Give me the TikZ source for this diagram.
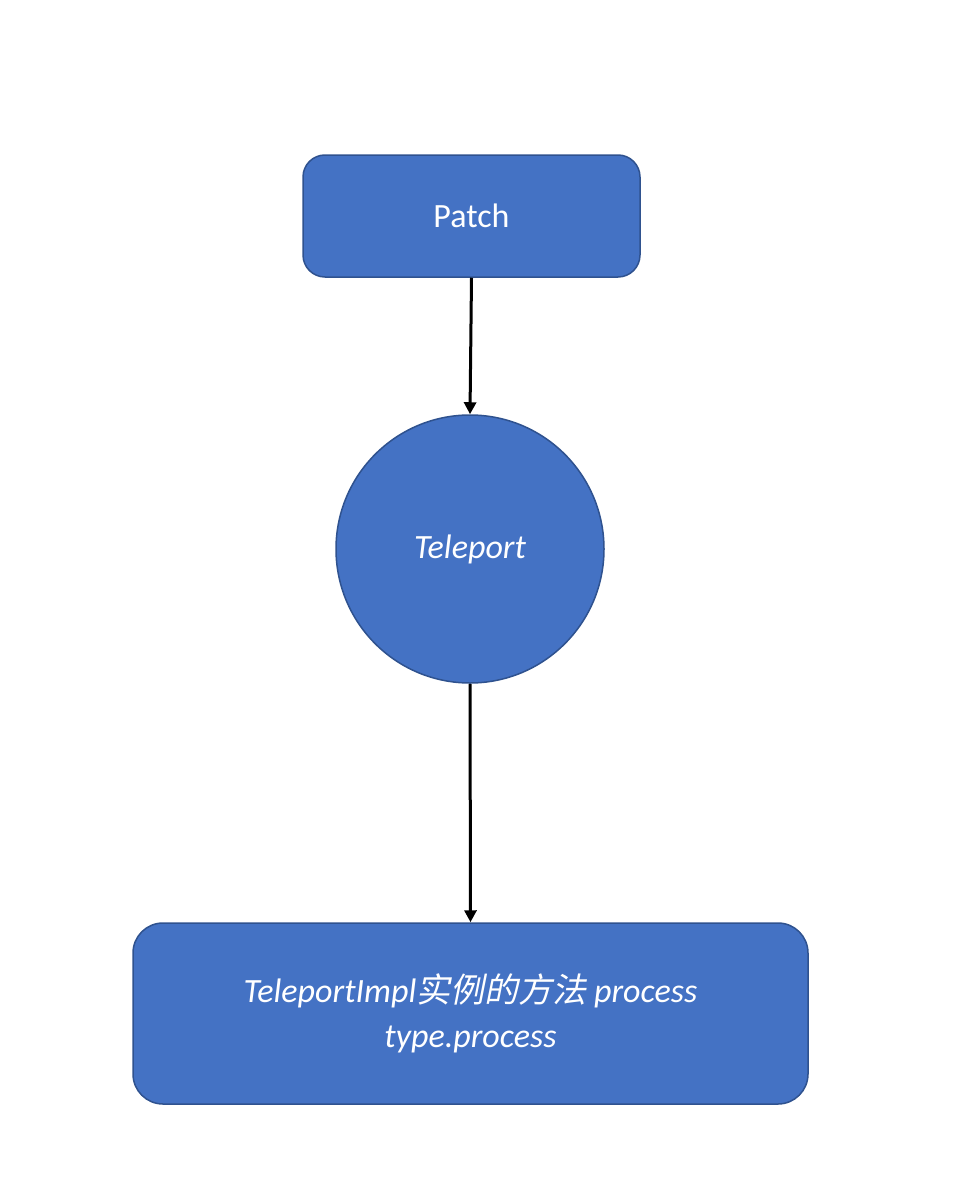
\documentclass[tikz,border=0pt]{standalone}
\usepackage{fontspec}
\setmainfont{Carlito}
\newfontfamily\cjk[FakeSlant=0.2]{Noto Sans CJK SC}
\usetikzlibrary{arrows.meta}
\definecolor{officeblue}{HTML}{4472C4}
\definecolor{officeedge}{HTML}{2F528F}
\begin{document}
\begin{tikzpicture}[x=1pt,y=-1pt,
  boxstyle/.style={draw=officeedge, line width=1.5pt, fill=officeblue, text=white, font=\fontsize{34}{45}\selectfont},
  arrowstyle/.style={line width=3pt, -{Triangle[length=12pt,width=12pt]}}]
\useasboundingbox (0,0) rectangle (972,1180);
\node[boxstyle, rounded corners=22pt, minimum width=337pt, minimum height=122pt, inner sep=0pt] (patch) at (471.5,216) {Patch};
\node[boxstyle, circle, minimum size=268pt, inner sep=0pt] (tele) at (470,549) {\itshape Teleport};
\node[boxstyle, rounded corners=30pt, minimum width=675pt, minimum height=181pt, inner sep=0pt, align=center] (impl) at (470.5,1013.5) {\itshape TeleportImpl{\cjk 实例的方法} process\\\itshape type.process};
\draw[arrowstyle] (patch.south) -- (tele.north);
\draw[arrowstyle] (tele.south) -- (impl.north);
\end{tikzpicture}
\end{document}
